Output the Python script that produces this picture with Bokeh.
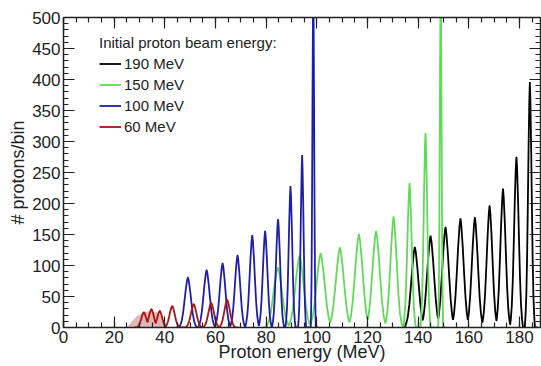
import numpy as np
from bokeh.plotting import figure
from bokeh.models import Range1d, FixedTicker, LinearAxis, Legend, LegendItem
from bokeh.embed import file_html
from bokeh.resources import INLINE

# ---- data (peak centre MeV, height protons/bin, half base width MeV)
black_centers = [138.7, 144.9, 150.8, 156.7, 162.4, 168.2, 173.5, 178.8, 184.1]
black_heights = [130, 148, 162, 176, 178, 197, 224, 276, 396]
black_widths = [4.0, 3.9, 3.7, 3.6, 3.4, 3.2, 3.0, 2.6, 2.0]

green_centers = [84.6, 93.2, 101.5, 109.1, 116.6, 123.4, 130.3, 136.6, 142.9, 148.9]
green_heights = [97, 116, 120, 129, 151, 156, 179, 233, 315, 560]
green_widths = [4.8, 4.7, 4.6, 4.6, 4.4, 4.2, 3.6, 2.5, 2.0, 1.0]

blue_centers = [49.1, 56.5, 62.8, 68.7, 74.5, 79.6, 84.7, 89.6, 94.2, 98.6]
blue_heights = [81, 93, 104, 117, 149, 156, 175, 228, 278, 560]
blue_widths = [3.5, 3.4, 3.2, 3.0, 2.8, 2.6, 2.4, 2.0, 1.6, 1.0]

red_centers = [31.7, 34.7, 38.0, 42.9, 51.4, 58.3, 64.6]
red_heights = [25, 30, 27, 35, 38, 40, 45]
red_widths = [2.8, 2.8, 2.8, 3.0, 3.2, 3.2, 3.2]

# shaded band under the 60 MeV curve
shade_x = [25, 27, 29, 31, 33, 35, 37, 39, 41]
shade_top = [0, 10, 18, 23, 26, 26, 24, 16, 0]

# typical peak profile (offset in half-widths, fraction of peak height)
prof_off = [-1.0, -0.85, -0.7, -0.55, -0.4, -0.25, -0.1, 0.0, 0.1, 0.25, 0.4, 0.55, 0.7, 0.85, 1.0]
prof_frac = [0.0, 0.05, 0.13, 0.28, 0.5, 0.74, 0.93, 1.0, 0.93, 0.74, 0.5, 0.28, 0.13, 0.05, 0.0]

x_ticks = [0, 20, 40, 60, 80, 100, 120, 140, 160, 180]
y_ticks = [0, 50, 100, 150, 200, 250, 300, 350, 400, 450, 500]

series = [
    ("190 MeV", "#000000", black_centers, black_heights, black_widths),
    ("150 MeV", "#62d95a", green_centers, green_heights, green_widths),
    ("100 MeV", "#1e1ea8", blue_centers, blue_heights, blue_widths),
    ("60 MeV", "#a81414", red_centers, red_heights, red_widths),
]


def build_curve(centers, heights, widths):
    lo = min(c - w for c, w in zip(centers, widths)) - 1
    hi = max(c + w for c, w in zip(centers, widths)) + 1
    xs = np.arange(lo, hi, 0.04)
    ys = np.zeros_like(xs)
    for c, h, w in zip(centers, heights, widths):
        ys = np.maximum(ys, h * np.interp((xs - c) / w, prof_off, prof_frac, left=0, right=0))
    return xs, ys


FONT = "Liberation Sans"

p = figure(width=541, height=366, output_backend="svg", toolbar_location=None,
           x_range=Range1d(0, 188.3), y_range=Range1d(0, 500),
           min_border_left=63, min_border_right=1, min_border_top=17, min_border_bottom=39)
p.background_fill_color = "white"
p.border_fill_color = "white"
p.outline_line_color = None
p.xgrid.visible = False
p.ygrid.visible = False

xt = FixedTicker(ticks=x_ticks, minor_ticks=list(range(0, 190, 5)))
yt = FixedTicker(ticks=y_ticks, minor_ticks=list(range(0, 501, 10)))

p.xaxis.ticker = xt
p.yaxis.ticker = yt


def style_axis(ax, labels=True):
    ax.axis_line_color = "#222222"
    ax.axis_line_width = 1.5
    ax.major_tick_in = 11
    ax.major_tick_out = 0
    ax.minor_tick_in = 5
    ax.minor_tick_out = 0
    ax.major_tick_line_color = "#222222"
    ax.minor_tick_line_color = "#222222"
    ax.major_tick_line_width = 1.2
    ax.minor_tick_line_width = 1.2
    if labels:
        ax.major_label_text_font = FONT
        ax.major_label_text_font_size = "17px"
        ax.major_label_text_color = "#222222"
        ax.axis_label_text_font = FONT
        ax.axis_label_text_font_size = "18px"
        ax.axis_label_text_font_style = "normal"
        ax.axis_label_text_color = "#222222"
    else:
        ax.major_label_text_font_size = "0px"
        ax.major_label_text_alpha = 0


style_axis(p.xaxis[0])
style_axis(p.yaxis[0])
p.xaxis.axis_label = "Proton energy (MeV)"
p.yaxis.axis_label = "# protons/bin"
p.xaxis.major_label_standoff = 3
p.xaxis.axis_label_standoff = -4
p.yaxis.major_label_standoff = 3
p.yaxis.axis_label_standoff = 1

top_ax = LinearAxis(ticker=xt)
style_axis(top_ax, labels=False)
p.add_layout(top_ax, "above")
right_ax = LinearAxis(ticker=yt)
style_axis(right_ax, labels=False)
p.add_layout(right_ax, "right")

# shaded band
p.varea(x=shade_x, y1=[0] * len(shade_x), y2=shade_top, fill_color="#c97a7a", fill_alpha=0.55)

renderers = {}
for name, color, cs, hs, ws in series:
    xs, ys = build_curve(cs, hs, ws)
    renderers[name] = p.line(xs, ys, line_color=color, line_width=1.8)

legend = Legend(items=[LegendItem(label=n, renderers=[renderers[n]]) for n, *_ in series],
                location=(36, 190))
legend.title = "Initial proton beam energy:"
legend.title_text_font = FONT
legend.title_text_font_size = "15px"
legend.title_text_font_style = "normal"
legend.title_text_color = "#222222"
legend.title_standoff = 2
legend.label_text_font = FONT
legend.label_text_font_size = "15px"
legend.label_text_color = "#222222"
legend.glyph_width = 22
legend.glyph_height = 21
legend.label_height = 21
legend.label_standoff = 3
legend.spacing = 0
legend.padding = 0
legend.margin = 0
legend.background_fill_alpha = 0
legend.border_line_alpha = 0
p.add_layout(legend, "center")

open("out.html", "w").write(file_html(p, INLINE))
